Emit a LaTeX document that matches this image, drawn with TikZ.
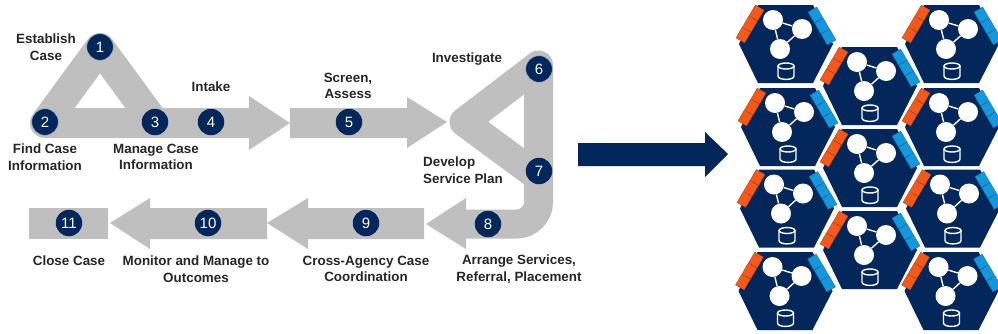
\documentclass[tikz,border=0pt]{standalone}
\usepackage{fontspec}
\setmainfont{Liberation Sans}
\definecolor{navy}{HTML}{03275A}
\definecolor{flow}{HTML}{BFBFBF}
\definecolor{halo}{HTML}{9DB4CE}
\definecolor{portin}{HTML}{F4591C}
\definecolor{portout}{HTML}{1497DC}
\tikzset{
  hexcell/.pic={
    \tikzstyle{ball}=[circle,fill=white,inner sep=0pt,minimum size=20pt]
    \tikzstyle{portl}=[fill=portin,draw=portin!70!black,line width=0.3pt,inner sep=0pt,minimum width=12.5pt,minimum height=10pt,rotate=60]
    \tikzstyle{portr}=[fill=portout,draw=portout!70!black,line width=0.3pt,inner sep=0pt,minimum width=12.5pt,minimum height=10pt,rotate=-60]
    \tikzstyle{lien}=[white,line width=1.4pt]
    \fill[navy] (-47,0) -- (-28,-39) -- (27,-39) -- (47,0) -- (27,39) -- (-28,39) -- cycle;
    \node[portl] (-l1) at (-42.5,-9) {};
    \node[portl] (-l2) at (-36,-20) {};
    \node[portl] (-l3) at (-29.5,-31) {};
    \node[portr] (-r1) at (29.5,-29) {};
    \node[portr] (-r2) at (36,-18) {};
    \node[portr] (-r3) at (42.5,-7) {};
    \node[ball] (-a) at (-13,-24) {};
    \node[ball] (-b) at (16,-15) {};
    \node[ball] (-c) at (-6,5) {};
    \draw[lien] (-a) -- (-b);
    \draw[lien] (-b) -- (-c);
    \draw[lien] (-a) -- (-c);
    \draw[lien] (0,22) ellipse (8 and 3);
    \draw[lien] (-8,22) -- (-8,32) .. controls (-8,36.5) and (8,36.5) .. (8,32) -- (8,22);
  }
}
\begin{document}
\begin{tikzpicture}[x=1pt,y=-1pt]
    \tikzstyle{num}=[circle,fill=navy,text=white,inner sep=0pt,minimum size=26.5pt,font=\fontsize{15}{15}\selectfont]
    \tikzstyle{etiq}=[align=center,inner sep=0pt,font=\fontsize{13.4}{16.5}\selectfont\bfseries,text=black!85]
    \tikzstyle{bande}=[flow,line join=round]
    \useasboundingbox (0,0) rectangle (998,333);
    % grey process band
    \draw[bande,line width=30pt] (45,123) -- (100,48) -- (155,123) -- cycle;
    \fill[flow] (155,108) -- (249,108) -- (249,96) -- (290,123) -- (249,150) -- (249,138) -- (155,138) -- cycle;
    \fill[flow] (290,108) -- (407,108) -- (407,97) -- (447,122) -- (407,148) -- (407,138) -- (290,138) -- cycle;
    \draw[bande,line width=29pt] (538.5,65) -- (464,122) -- (538.5,177) -- cycle;
    \draw[flow,line width=29pt,rounded corners=22pt] (538.5,177) -- (538.5,224) -- (466,224);
    \fill[flow] (466,198) -- (426,224) -- (466,249) -- cycle;
    \fill[flow] (424,208) -- (424,239) -- (308,239) -- (308,249) -- (267,223) -- (308,198) -- (308,208) -- cycle;
    \fill[flow] (267,208) -- (267,239) -- (150,239) -- (150,249) -- (110,223) -- (150,198) -- (150,208) -- cycle;
    \fill[flow] (29,208) rectangle (108,239);
    % big arrow
    \fill[navy] (578,143) -- (705,143) -- (705,132) -- (728,154) -- (705,177) -- (705,166) -- (578,166) -- cycle;
    % numbered steps
    \node[num,draw=halo] (1) at (100,47) {1};
    \node[num,draw=halo] (2) at (45,122) {2};
    \node[num] (3) at (155,122) {3};
    \node[num] (4) at (211,122) {4};
    \node[num] (5) at (349,122) {5};
    \node[num,draw=halo] (6) at (539,69) {6};
    \node[num] (7) at (539,171) {7};
    \node[num] (8) at (488,224) {8};
    \node[num] (9) at (366,223) {9};
    \node[num] (10) at (208,223) {10};
    \node[num] (11) at (69,223) {11};
    % labels
    \node[etiq] (l1) at (46,47) {Establish\\Case};
    \node[etiq] (l2) at (45,157) {Find Case\\Information};
    \node[etiq] (l3) at (156,157) {Manage Case\\Information};
    \node[etiq] (l4) at (211,87) {Intake};
    \node[etiq] (l5) at (348,86) {Screen,\\Assess};
    \node[etiq] (l6) at (467,59) {Investigate};
    \node[etiq,align=left] (l7) at (463,170) {Develop\\Service Plan};
    \node[etiq] (l8) at (519,269) {Arrange Services,\\Referral, Placement};
    \node[etiq] (l9) at (366,269) {Cross-Agency Case\\Coordination};
    \node[etiq] (l10) at (196,269) {Monitor and Manage to\\Outcomes};
    \node[etiq] (l11) at (69,261) {Close Case};
    % hexagon cells
    \pic (h1) at (786,44) {hexcell};
    \pic (h2) at (788,127) {hexcell};
    \pic (h3) at (787,208.5) {hexcell};
    \pic (h4) at (785.5,291) {hexcell};
    \pic (h5) at (870,86) {hexcell};
    \pic (h6) at (870,168) {hexcell};
    \pic (h7) at (870,250) {hexcell};
    \pic (h8) at (952,44) {hexcell};
    \pic (h9) at (952,127) {hexcell};
    \pic (h10) at (953,208.5) {hexcell};
    \pic (h11) at (951.5,291) {hexcell};
\end{tikzpicture}
\end{document}
